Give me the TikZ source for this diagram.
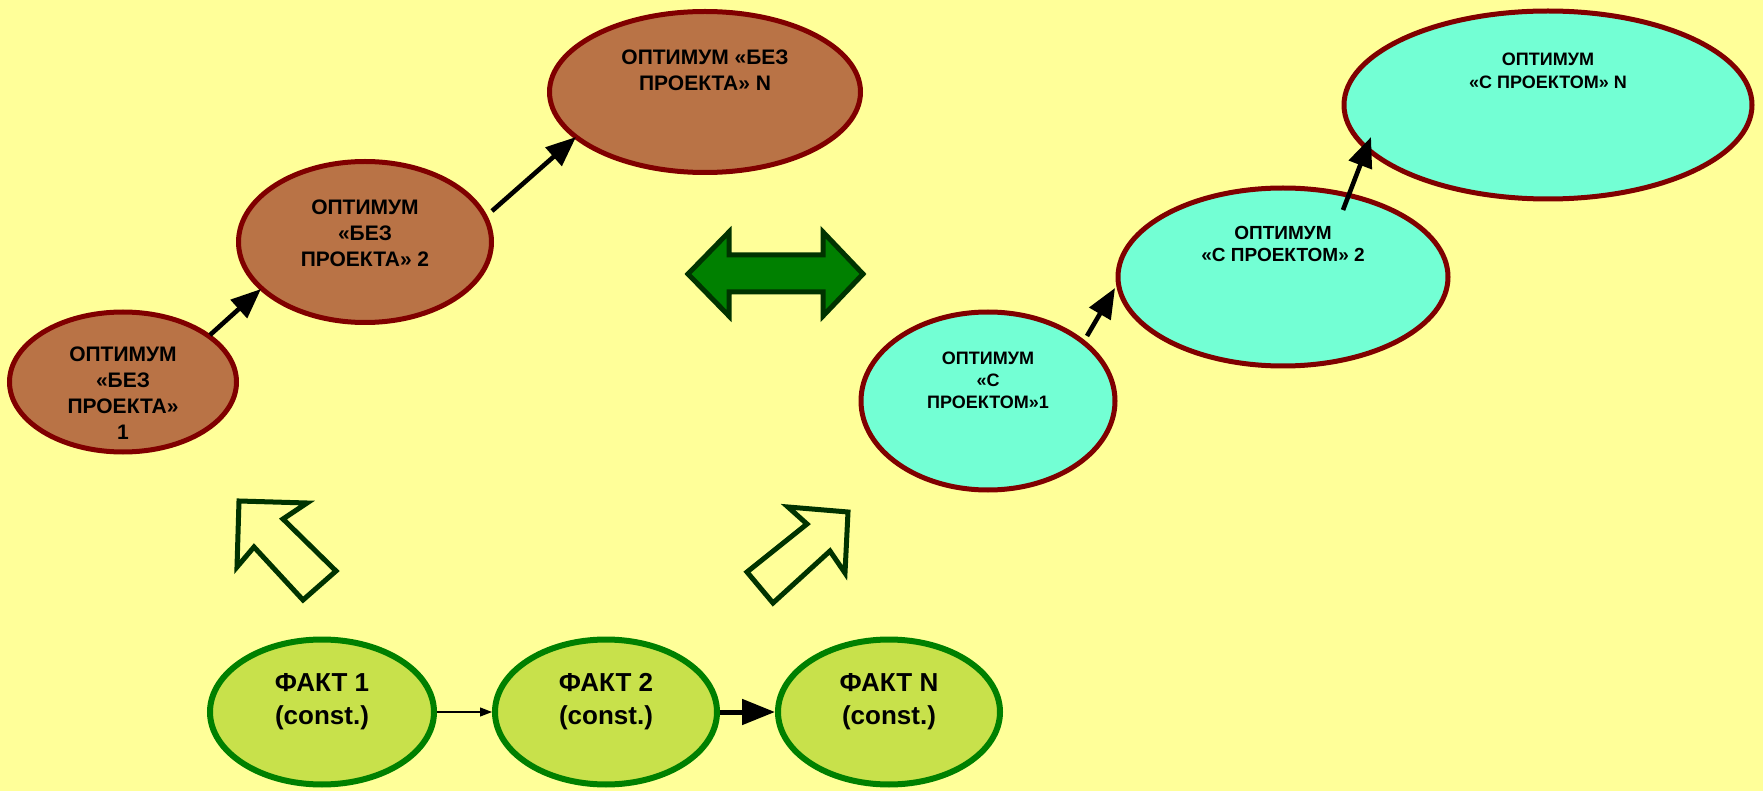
\documentclass[tikz,border=0pt]{standalone}
\usepackage{fontspec}
\setmainfont{Liberation Sans}
\usetikzlibrary{arrows.meta,shapes.geometric}
\definecolor{bgyellow}{RGB}{255,255,153}
\definecolor{brownfill}{RGB}{185,115,70}
\definecolor{redline}{RGB}{128,0,0}
\definecolor{aquafill}{RGB}{115,255,212}
\definecolor{limefill}{RGB}{200,225,75}
\definecolor{greenline}{RGB}{0,128,0}
\definecolor{darkgreen}{RGB}{0,51,0}
\tikzset{
  without/.style={ellipse,draw=redline,fill=brownfill,line width=2.5pt,inner sep=0pt},
  withproj/.style={ellipse,draw=redline,fill=aquafill,line width=2.5pt,inner sep=0pt},
  fact/.style={ellipse,draw=greenline,fill=limefill,line width=3pt,inner sep=0pt},
  lbl/.style={align=center,inner sep=0pt},
  stepto/.style={-{Triangle[length=15pt,width=12pt]},line width=2.3pt},
  hollow/.style={draw=darkgreen,line width=2.5pt,line join=miter}
}
\begin{document}
\begin{tikzpicture}[x=0.5pt,y=-0.5pt]
 \useasboundingbox (0,0) rectangle (1763,791);
 \fill[bgyellow] (0,0) rectangle (1763,791);

 % optimum without project
 \node[without,minimum width=113.5pt,minimum height=70pt] (b1) at (123,382) {};
 \node[without,minimum width=126.5pt,minimum height=80.5pt] (b2) at (365,242) {};
 \node[without,minimum width=155.5pt,minimum height=80.5pt] (bn) at (705,92) {};
 \node[lbl,font=\bfseries\fontsize{10.5}{13}\selectfont] (b1txt) at ([shift={(0,11)}]b1.center) {ОПТИМУМ\\«БЕЗ\\ПРОЕКТА»\\1};
 \node[lbl,font=\bfseries\fontsize{10.5}{13}\selectfont] (b2txt) at ([shift={(0,-9)}]b2.center) {ОПТИМУМ\\«БЕЗ\\ПРОЕКТА» 2};
 \node[lbl,font=\bfseries\fontsize{10.5}{13}\selectfont] (bntxt) at ([shift={(0,-22)}]bn.center) {ОПТИМУМ «БЕЗ\\ПРОЕКТА» N};

 % optimum with project
 \node[withproj,minimum width=127pt,minimum height=89pt] (c1) at (988,401) {};
 \node[withproj,minimum width=165pt,minimum height=89pt] (c2) at (1283,277) {};
 \node[withproj,minimum width=204pt,minimum height=94pt] (cn) at (1548,105) {};
 \node[lbl,font=\bfseries\fontsize{9}{11}\selectfont] (c1txt) at ([shift={(0,-21)}]c1.center) {ОПТИМУМ\\«С\\ПРОЕКТОМ»1};
 \node[lbl,font=\bfseries\fontsize{9.5}{11}\selectfont] (c2txt) at ([shift={(0,-33)}]c2.center) {ОПТИМУМ\\«С ПРОЕКТОМ» 2};
 \node[lbl,font=\bfseries\fontsize{9}{11.5}\selectfont] (cntxt) at ([shift={(0,-34)}]cn.center) {ОПТИМУМ\\«С ПРОЕКТОМ» N};

 % facts
 \node[fact,minimum width=112pt,minimum height=72.5pt] (f1) at (322,712) {};
 \node[fact,minimum width=111pt,minimum height=72.5pt] (f2) at (606,712) {};
 \node[fact,minimum width=111pt,minimum height=72.5pt] (fn) at (889,712) {};
 \foreach \f/\t in {f1/1,f2/2,fn/N}{
   \node[lbl,font=\bfseries\fontsize{13}{16.5}\selectfont] (\f txt) at ([shift={(0,-10)}]\f.center) {ФАКТ \t\\(const.)};
 }

 % steps
 \draw[stepto] ([shift={(87,-47)}]b1.center) -- ([shift={(-104,47)}]b2.center);
 \draw[stepto] ([shift={(127,-31)}]b2.center) -- ([shift={(-129,45)}]bn.center);
 \draw[stepto] ([shift={(99,-65)}]c1.center) -- ([shift={(-168,11)}]c2.center);
 \draw[stepto] ([shift={(60,-67)}]c2.center) -- ([shift={(-177,32)}]cn.center);
 \draw[-{Triangle[length=6pt,width=4.5pt]},line width=0.6pt] (f1.east) -- (f2.west);
 \draw[-{Triangle[length=16.5pt,width=12.5pt]},line width=2.5pt] (f2.east) -- (fn.west);

 % block arrows
 \draw[hollow] (239,501) -- (307,503) -- (283,519) -- (336,571) -- (303,600) -- (254,547) -- (237,567) -- cycle;
 \draw[hollow] (848,512) -- (788,507) -- (807,524) -- (747,572) -- (773,603) -- (830,551) -- (845,573) -- cycle;
 \draw[hollow,fill=greenline] (688,274) -- (729,232) -- (729,255) -- (823,255) -- (823,232) -- (863,274)
   -- (823,316) -- (823,292) -- (729,292) -- (729,316) -- cycle;
\end{tikzpicture}
\end{document}
